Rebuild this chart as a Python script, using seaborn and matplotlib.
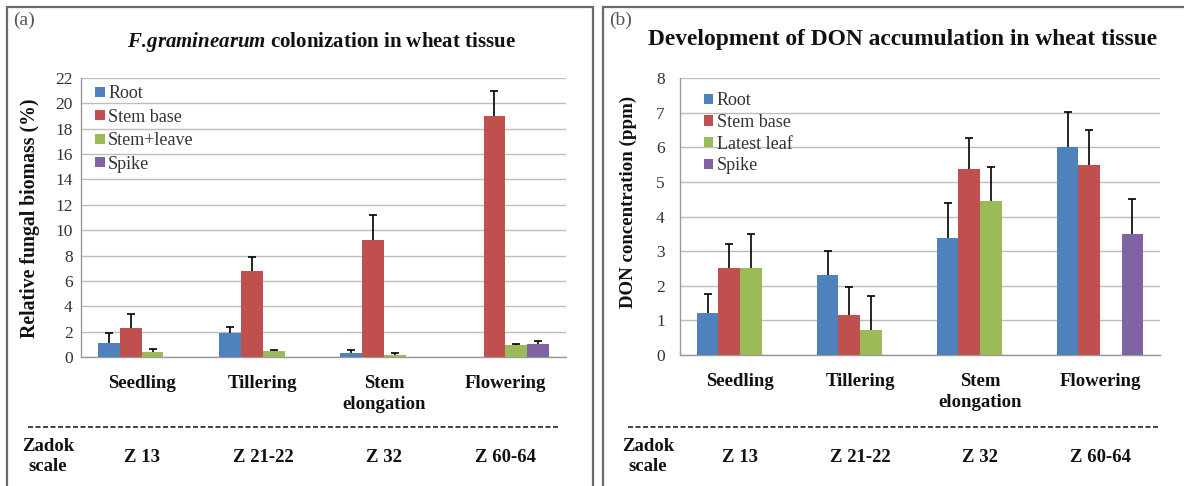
import numpy as np
import pandas as pd
import matplotlib
matplotlib.use("Agg")
import matplotlib.pyplot as plt
from matplotlib.lines import Line2D
from matplotlib.patches import Rectangle
from matplotlib.transforms import blended_transform_factory
import seaborn as sns

# ---- data ----
stages = ["Seedling", "Tillering", "Stem\nelongation", "Flowering"]
zadok = ["Z 13", "Z 21-22", "Z 32", "Z 60-64"]

# (a) relative fungal biomass (%)
tissues_a = ["Root", "Stem base", "Stem+leave", "Spike"]
biomass_root = [1.1, 1.9, 0.35, np.nan]
biomass_stembase = [2.3, 6.8, 9.2, 19.0]
biomass_stemleave = [0.4, 0.5, 0.15, 0.95]
biomass_spike = [np.nan, np.nan, np.nan, 1.0]
biomass_root_err = [0.8, 0.45, 0.2, np.nan]
biomass_stembase_err = [1.1, 1.1, 2.0, 2.0]
biomass_stemleave_err = [0.2, 0.05, 0.15, 0.1]
biomass_spike_err = [np.nan, np.nan, np.nan, 0.3]

# (b) DON concentration (ppm)
tissues_b = ["Root", "Stem base", "Latest leaf", "Spike"]
don_root = [1.22, 2.3, 3.38, 6.0]
don_stembase = [2.5, 1.15, 5.38, 5.5]
don_leaf = [2.5, 0.72, 4.45, np.nan]
don_spike = [np.nan, np.nan, np.nan, 3.5]
don_root_err = [0.53, 0.7, 1.02, 1.02]
don_stembase_err = [0.72, 0.82, 0.9, 1.0]
don_leaf_err = [1.0, 0.98, 0.97, np.nan]
don_spike_err = [np.nan, np.nan, np.nan, 1.0]

palette = ["#4F81BD", "#C0504D", "#9BBB59", "#8064A2"]

sns.set_theme(style="white")
plt.rcParams["font.family"] = ["Liberation Serif", "DejaVu Serif"]
plt.rcParams["mathtext.fontset"] = "custom"
plt.rcParams["mathtext.it"] = "Liberation Serif:italic:bold"
plt.rcParams["mathtext.rm"] = "Liberation Serif:bold"

W, H = 1184, 486
fig = plt.figure(figsize=(W / 100, H / 100), dpi=100)
fig.patch.set_facecolor("white")


def fx(px):
    return px / W


def fy(py):
    return 1 - py / H


def long_frame(tissues, values, errors):
    rows = []
    for t, vals, errs in zip(tissues, values, errors):
        for s, v, e in zip(stages, vals, errs):
            rows.append({"stage": s, "tissue": t, "value": v, "err": e})
    return pd.DataFrame(rows)


def panel(rect, df, tissues, ymax, ystep, title, title_size, title_xy, tag,
          ylabel, ylabel_size, ylabel_xy, ytick_pad, legend_anchor,
          legend_spacing, box_left, dash_x, zadok_x):
    ax = fig.add_axes(rect)
    plot_df = df.assign(value=df["value"].fillna(0))
    sns.barplot(data=plot_df, x="stage", y="value", hue="tissue",
                order=stages, hue_order=tissues, palette=palette,
                width=0.72, errorbar=None, saturation=1, ax=ax,
                linewidth=0, zorder=3)
    # one-sided (upper) error bars on top of each bar
    for cont, t in zip(ax.containers, tissues):
        sub = df[df["tissue"] == t].set_index("stage").loc[stages]
        for patch, (_, row) in zip(cont.patches, sub.iterrows()):
            if np.isnan(row["err"]) or np.isnan(row["value"]):
                continue
            xc = patch.get_x() + patch.get_width() / 2
            eb = ax.errorbar(xc, row["value"], yerr=[[0], [row["err"]]],
                             fmt="none", ecolor="black", elinewidth=1.2,
                             capsize=3.2, capthick=1.2, zorder=4)
            caps = eb[1]
            if len(caps) > 1:
                caps[0].set_visible(False)

    ax.set_ylim(0, ymax)
    ax.set_xlim(-0.5, 3.5)
    ax.set_yticks(np.arange(0, ymax + 0.01, ystep))
    ax.yaxis.grid(True, color="#BDBDBD", linewidth=1.0, zorder=0)
    ax.set_axisbelow(True)
    for side in ["top", "right"]:
        ax.spines[side].set_visible(False)
    for side in ["left", "bottom"]:
        ax.spines[side].set_color("#9A9A9A")
        ax.spines[side].set_linewidth(1.0)
    ax.tick_params(axis="y", direction="out", length=5, color="#9A9A9A",
                   width=1, labelsize=12.5, labelcolor="#333333",
                   pad=ytick_pad)
    ax.set_xticks(range(len(stages)))
    ax.set_xticklabels(stages, fontweight="bold", fontsize=13.5,
                       linespacing=1.3)
    ax.tick_params(axis="x", length=0, pad=13, labelcolor="#111111")
    ax.set_xticks([0.5, 1.5, 2.5], minor=True)
    ax.tick_params(axis="x", which="minor", direction="out", length=5,
                   color="#9A9A9A", width=1)
    ax.set_xlabel("")
    ax.set_ylabel("")
    # rotated axis title, centred at the given pixel position
    fig.text(fx(ylabel_xy[0]), fy(ylabel_xy[1]), ylabel, rotation=90,
             ha="center", va="center", fontweight="bold",
             fontsize=ylabel_size, color="#111111")

    leg = ax.legend(loc="upper left", bbox_to_anchor=legend_anchor,
                    frameon=False, fontsize=13, handlelength=0.5,
                    handleheight=0.5, handletextpad=0.2,
                    labelspacing=legend_spacing, borderaxespad=0)
    for txt in leg.get_texts():
        txt.set_color("#333333")

    # titles and panel tag
    fig.text(fx(title_xy[0]), fy(title_xy[1]), title, ha="center",
             va="center", fontsize=title_size, fontweight="bold",
             color="#111111")
    fig.text(fx(box_left + 6), fy(20), tag, ha="left", va="center",
             fontsize=14, color="#555555")

    # dashed separator and Zadok scale row
    fig.add_artist(Line2D([fx(dash_x[0]), fx(dash_x[1])], [fy(427), fy(427)],
                          color="#222222", linewidth=1.2,
                          linestyle=(0, (3, 1.5))))
    fig.text(fx(zadok_x), fy(456.5), "Zadok\nscale", ha="center",
             va="center", fontsize=13.5, fontweight="bold", linespacing=1.3,
             color="#111111")
    trans = blended_transform_factory(ax.transData, fig.transFigure)
    for i, z in enumerate(zadok):
        ax.text(i, fy(457), z, transform=trans, ha="center", va="center",
                fontsize=13.5, fontweight="bold", color="#111111")
    return ax


df_a = long_frame(tissues_a,
                  [biomass_root, biomass_stembase, biomass_stemleave, biomass_spike],
                  [biomass_root_err, biomass_stembase_err, biomass_stemleave_err,
                   biomass_spike_err])
df_b = long_frame(tissues_b,
                  [don_root, don_stembase, don_leaf, don_spike],
                  [don_root_err, don_stembase_err, don_leaf_err, don_spike_err])

panel([fx(81), fy(357), fx(566 - 81), (357 - 78) / H], df_a, tissues_a, 22, 2,
      r"$\mathit{F.\!graminearum}$ colonization in wheat tissue", 15.0,
      (321, 42), "(a)", "Relative fungal biomass (%)", 14.2, (30, 218),
      1, (0.015, 1.0), 0.36, 7, (28, 560), 48)
panel([fx(680), fy(355), fx(1160 - 680), (355 - 78) / H], df_b, tissues_b, 8, 1,
      "Development of DON accumulation in wheat tissue", 16.9,
      (903, 40), "(b)", "DON concentration (ppm)", 13.6, (628, 202),
      6, (0.035, 0.975), 0.26, 603, (628, 1160), 648)

# panel frames
fig.add_artist(Rectangle((fx(7), -0.05), fx(593 - 7), fy(7) + 0.05,
                         fill=False, edgecolor="#6A6A6A", linewidth=1.6))
fig.add_artist(Rectangle((fx(603), -0.05), fx(1200 - 603), fy(7) + 0.05,
                         fill=False, edgecolor="#6A6A6A", linewidth=1.6))

fig.savefig("out.png", dpi=100, facecolor="white")
